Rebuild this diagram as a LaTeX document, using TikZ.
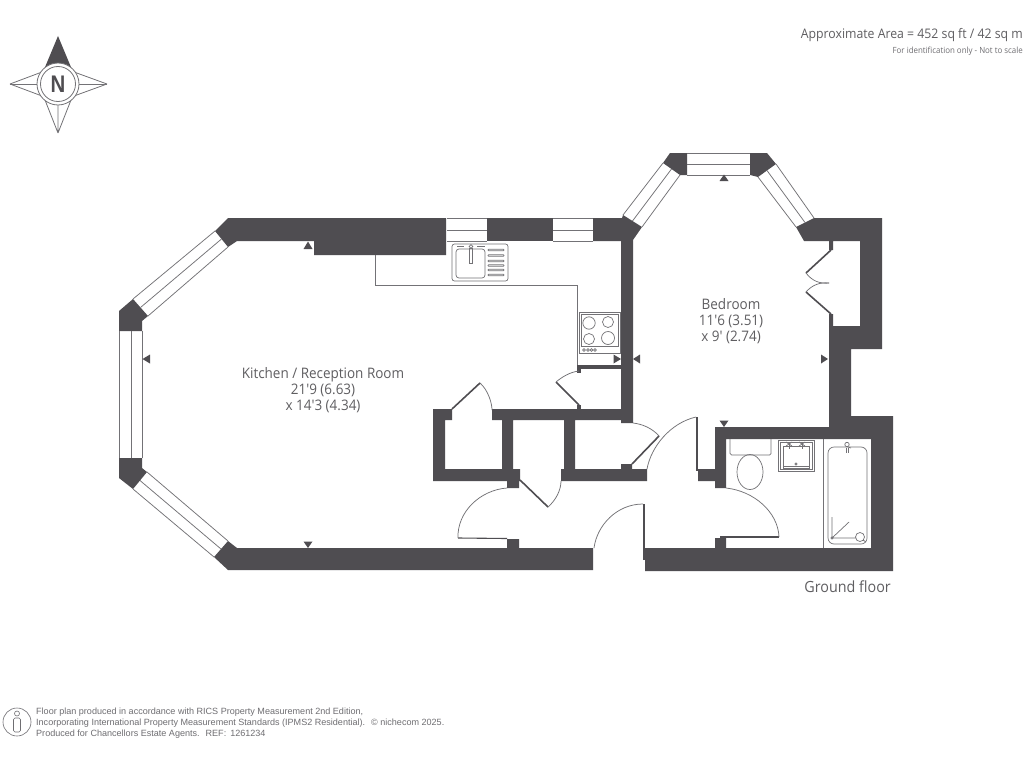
\documentclass[tikz,border=0pt]{standalone}
\usepackage{fontspec}
\setmainfont{Open Sans}
\newfontfamily\labelfont[FakeStretch=0.93]{Open Sans}
\newfontfamily\footfont{Liberation Sans}
\newfontfamily\nfont[FakeStretch=0.85]{Liberation Sans}
\definecolor{wallc}{HTML}{4F4D51}
\definecolor{linec}{HTML}{737276}
\definecolor{textc}{HTML}{5F5E61}
\definecolor{footc}{HTML}{6F6E72}
\tikzset{
  wall/.style={fill=wallc,draw=none},
  thin line/.style={draw=linec,line width=0.75pt},
  fitting/.style={draw=linec,line width=0.7pt},
  leaf/.style={draw=wallc,line width=1.6pt},
  tick/.style={fill=wallc,draw=none},
  roomlabel/.style={text=textc,align=center,font=\labelfont\fontsize{14.5}{16}\selectfont,inner sep=0pt},
  footline/.style={text=footc,anchor=base west,font=\footfont\fontsize{9.05}{10}\selectfont,inner sep=0pt},
}
\begin{document}
\begin{tikzpicture}[x=1pt,y=-1pt]
\useasboundingbox (0,0) rectangle (1024,768);
\fill[white] (0,0) rectangle (1024,768);

% === Walls ===
\fill[wall] (228,218)--(215,231)--(228,247)--(237,241)--(314,241)--(314,255)--(446,255)--(446,218)--cycle;
\fill[wall] (487,218)rectangle(553,241);
\fill[wall] (593,218)--(622,218)--(623,215)--(642,227)--(633,240)--(633,423)--(621,423)--(621,241)--(593,241)--cycle;
\fill[wall] (133,299)--(119,311)--(119,331)--(142,331)--(142,321)--(148,316)--cycle;
\fill[wall] (119,458)--(142,458)--(142,468)--(147,472)--(133,489)--(119,478)--cycle;
\fill[wall] (228,541)--(237,548)--(507,548)--(507,539)--(519,539)--(519,548)--(593,548)--(593,570)--(228,570)--(214,557)--cycle;
\fill[wall] (433,409)--(452,409)--(452,420)--(445,420)--(445,469)--(502,469)--(502,420)--(492,420)--(492,409)--(621,409)--(621,420)--(575,420)--(575,469)--(621,469)--(621,464)--(632,464)--(632,469)--(647,469)--(647,481)--(561,481)--(561,469)--(564,469)--(564,420)--(513,420)--(513,469)--(520,469)--(520,481)--(519,481)--(519,488)--(507,488)--(507,481)--(433,481)--cycle;
\fill[wall] (577,365)rectangle(621,369);
\fill[wall] (577,365)rectangle(581,373);
\fill[wall] (577,405)rectangle(581,409);
\fill[wall] (670,153)--(687,153)--(687,175)--(680,175)--(663,163)--cycle;
\fill[wall] (750,153)--(767,153)--(776,164)--(758,177)--(750,175)--cycle;
\fill[wall] (814,218)--(882,218)--(882,349)--(851,349)--(851,416)--(893,416)--(893,571)--(645,571)--(645,548)--(715,548)--(715,538)--(726,538)--(726,548)--(871,548)--(871,439)--(726,439)--(726,488)--(715,488)--(715,481)--(698,481)--(698,469)--(715,469)--(715,427)--(829,427)--(829,314)--(833,314)--(833,326)--(860,326)--(860,241)--(833,241)--(833,250)--(829,250)--(829,241)--(804,241)--(796,227)--cycle;

% === Windows ===
\begin{scope}[thin line]
\draw (447,218)--(487,218) (447,241)--(487,241) (447,230)--(487,230);
\draw (553,218)--(593,218) (553,241)--(593,241) (553,230)--(593,230);
\draw (687,153)--(750,153) (687,175)--(750,175) (687,164)--(750,164);
\draw (119,331)--(119,458) (142,331)--(142,458) (131,331)--(131,458);
\draw (215,231)--(133,299) (228,247)--(148,316) (221.5,239)--(140.5,307.5);
\draw (228,541)--(147,472) (214,557)--(133,489) (221,549)--(140,480.5);
\draw (663,163)--(623,215) (680,175)--(642,227) (671.5,169)--(632.5,221);
\draw (776,164)--(814,218) (758,177)--(796,227) (767,170.5)--(805,222.5);
\end{scope}

% === Kitchen run ===
\draw[thin line] (375,255)--(375,285)--(577,285)--(577,365);

% === Doors ===
\draw[leaf] (452,409)--(480,383);
\draw[thin line] (480,383) .. controls (488,390) and (492,403) .. (492,410);
\draw[leaf] (579,405)--(556,382);
\draw[thin line] (556,382) .. controls (562,377) and (570,372) .. (579,371);
\draw[leaf] (520,480)--(548,507);
\draw[thin line] (548,507) .. controls (556,500) and (561,490) .. (561,481);
\draw[leaf,line width=1.1pt] (458,538)--(507,538.5);
\draw[thin line] (507,488) .. controls (480,490) and (457,512) .. (458,538);
\draw[thin line] (594,548) .. controls (597,525) and (617,504) .. (643,504);
\draw[leaf] (644,504)--(644,560);
\draw[leaf] (659,436)--(632,464);
\draw[thin line] (633,423) .. controls (642,424) and (652,428) .. (659,436);
\draw[thin line] (647,469) .. controls (651,447) and (670,423) .. (696,417);
\draw[leaf] (697,417)--(697,471);
\draw[leaf,line width=1.2pt] (720,537)--(779,537);
\draw[thin line] (726,488) .. controls (754,491) and (778,512) .. (779,537);
\draw[leaf] (831,250)--(806,273);
\draw[leaf] (831,314)--(806,292);
\draw[thin line] (806,273) .. controls (812,281) and (820,284) .. (829,283);
\draw[thin line] (806,292) .. controls (812,285) and (820,282) .. (829,283);

% === Sink ===
\begin{scope}[fitting]
\draw[rounded corners=2.5pt] (452,244) rectangle (508,281);
\draw[rounded corners=3pt] (456,249) rectangle (485,278);
\foreach \yy in {250,255.5,261,265.5,270,275} \draw[rounded corners=0.6pt] (488,\yy-0.8) rectangle (504,\yy+0.8);
\draw (469.8,248) rectangle (472.2,263);
\draw (471,246.5) circle (1.8);
\draw (457,246)--(464,246) (477,246)--(485,246);
\end{scope}

% === Hob ===
\begin{scope}[fitting]
\draw (579,312) rectangle (620,353);
\draw (581,314) rectangle (618,346);
\draw (589,323) circle (6.2);
\draw (608,322) circle (5.5);
\draw (589,339) circle (5.5);
\draw (608,338) circle (6.5);
\foreach \xx in {584,588,591.5,595} \draw (\xx,350) circle (1.4);
\end{scope}

% === Bathroom ===
\begin{scope}[fitting]
\draw (823,439)--(823,548);
\draw[rounded corners=1.5pt] (730,439)--(730,455)--(771,455)--(771,439);
\draw (750,472) ellipse (13 and 17.5);
\draw (778,440) rectangle (814,471);
\draw (780,442) rectangle (812,469);
\draw (783,446) rectangle (809,468);
\draw (783,466)--(809,466);
\draw (796,464) circle (1.1);
\foreach \xx in {789,802}{
  \draw (\xx-3,442)--(\xx+3,446) (\xx+3,442)--(\xx-3,446);
  \draw (\xx,442)--(\xx,449);
}
\draw[rounded corners=6pt] (828,447) rectangle (867,544);
\draw (846,448)--(846,453) (848,448)--(848,453);
\draw (847,444.5) circle (2.2);
\draw (848,447)--(851,448);
\draw (832,538)--(832,517) (832,538)--(849,522) (832,538)--(856,538);
\draw (832,538) circle (1.2);
\draw (860,537) ellipse (4.5 and 4.5);
\draw (863,540)--(866,542);
\end{scope}

% === Measure ticks ===
\fill[tick] (308,241.5)--(303.5,249)--(312.5,249)--cycle;
\fill[tick] (308,548)--(303.5,541.5)--(312.5,541.5)--cycle;
\fill[tick] (142.5,359)--(150,354.5)--(150,363.5)--cycle;
\fill[tick] (621,359)--(613.5,354.5)--(613.5,363.5)--cycle;
\fill[tick] (633,359)--(640,354.5)--(640,363.5)--cycle;
\fill[tick] (828,359)--(821,354.5)--(821,363.5)--cycle;
\fill[tick] (724,174.5)--(719.5,181)--(728.5,181)--cycle;
\fill[tick] (724,427)--(719.5,420.5)--(728.5,420.5)--cycle;

% === Labels ===
\node[roomlabel] (kitchen) at (323,390) {Kitchen / Reception Room\\21'9 (6.63)\\x 14'3 (4.34)};
\node[roomlabel] (bedroom) at (731,321) {Bedroom\\11'6 (3.51)\\x 9' (2.74)};
\node[text=textc,anchor=base east,inner sep=0pt,font=\labelfont\fontsize{15.4}{16}\selectfont] (ground) at (891,592) {Ground floor};
\node[text=textc,anchor=base east,inner sep=0pt,font=\labelfont\fontsize{13.2}{14}\selectfont] (area) at (1023,38) {Approximate Area = 452 sq ft / 42 sq m};
\node[text=footc,anchor=base east,inner sep=0pt,font=\labelfont\fontsize{8.5}{9}\selectfont] (scale) at (1023,53) {For identification only - Not to scale};

% === Compass ===
\begin{scope}[line width=0.8pt,draw=linec]
\fill[wallc] (58,36)--(43,72)--(73,72)--cycle;
\draw[linec] (10,84)--(42,72) (10,84)--(42,96) (107,84)--(74,72) (107,84)--(74,96);
\draw[linec] (58,133)--(45,100) (58,133)--(71,100) (58,105)--(58,133);
\draw[linec] (10,84)--(37,84) (79,84)--(107,84);
\fill[white,draw=linec] (58,84) circle (21);
\draw[linec] (58,84) circle (17.5);
\end{scope}
\node[text=wallc,font=\nfont\bfseries\fontsize{24}{26}\selectfont,inner sep=0pt] (north) at (58,84.5) {N};

% === Footer ===
\draw[draw=footc,line width=0.6pt] (17,722) circle (14);
\draw[draw=footc,line width=0.6pt] (17,713.5) circle (2.5);
\draw[draw=footc,line width=0.6pt,rounded corners=1.5pt] (13.5,732)--(13.5,718)--(20.5,718)--(20.5,732)--cycle;
\node[footline] (foot1) at (36,714) {Floor plan produced in accordance with RICS Property Measurement 2nd Edition,};
\node[footline] (foot2) at (36,725) {Incorporating International Property Measurement Standards (IPMS2 Residential).};
\node[footline] (foot3) at (36,736) {Produced for Chancellors Estate Agents.\hspace{6pt}REF:\hspace{4pt}1261234};
\node[footline] (copy) at (371,725) {© nichecom 2025.};
\end{tikzpicture}
\end{document}
